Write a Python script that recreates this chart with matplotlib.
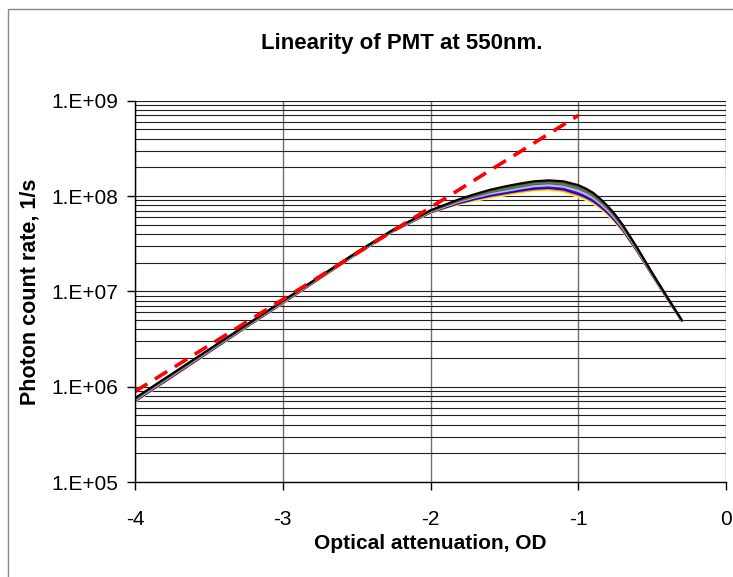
import numpy as np
import matplotlib
matplotlib.use('Agg')
import matplotlib.pyplot as plt
from matplotlib.patches import Rectangle
from matplotlib.ticker import FixedLocator, LogLocator, NullFormatter

plt.rcParams['font.family'] = ['Liberation Sans', 'DejaVu Sans']

# optical attenuation (OD)
od = [-4.0, -3.75, -3.5, -3.25, -3.0, -2.75, -2.5, -2.25, -2.0, -1.9, -1.8, -1.7, -1.6,
      -1.5, -1.4, -1.3, -1.2, -1.1, -1.0, -0.95, -0.9, -0.85, -0.8, -0.75, -0.7,
      -0.6, -0.5, -0.4, -0.3]

# log10 of photon count rate, one list per measurement (bottom -> top)
log_yellow = [5.840, 6.095, 6.355, 6.615, 6.870, 7.130, 7.390, 7.630, 7.820, 7.870, 7.915,
              7.950, 7.980, 8.005, 8.030, 8.050, 8.058, 8.040,
              7.990, 7.960, 7.920, 7.865, 7.800, 7.720, 7.630, 7.410, 7.165, 6.925, 6.690]
log_orange = [5.845, 6.100, 6.360, 6.619, 6.874, 7.133, 7.393, 7.633, 7.824, 7.875, 7.922,
              7.959, 7.991, 8.017, 8.043, 8.064, 8.072, 8.055,
              8.006, 7.976, 7.935, 7.879, 7.812, 7.731, 7.639, 7.416, 7.169, 6.928, 6.691]
log_blue = [5.850, 6.105, 6.364, 6.623, 6.878, 7.136, 7.395, 7.635, 7.828, 7.880, 7.929,
            7.968, 8.002, 8.028, 8.055, 8.077, 8.085, 8.069,
            8.021, 7.990, 7.949, 7.891, 7.824, 7.741, 7.648, 7.421, 7.173, 6.930, 6.693]
log_purple = [5.856, 6.111, 6.369, 6.627, 6.882, 7.140, 7.398, 7.638, 7.832, 7.886, 7.937,
              7.979, 8.015, 8.041, 8.069, 8.093, 8.101, 8.086,
              8.040, 8.008, 7.966, 7.907, 7.838, 7.754, 7.658, 7.428, 7.177, 6.933, 6.694]
log_lightblue = [5.860, 6.115, 6.373, 6.630, 6.885, 7.143, 7.400, 7.640, 7.835, 7.890, 7.943,
                 7.985, 8.023, 8.050, 8.078, 8.103, 8.112, 8.098,
                 8.053, 8.020, 7.978, 7.918, 7.848, 7.763, 7.665, 7.433, 7.180, 6.935, 6.695]
log_pink = [5.864, 6.119, 6.376, 6.633, 6.888, 7.145, 7.402, 7.642, 7.838, 7.894, 7.948,
            7.991, 8.031, 8.059, 8.088, 8.114, 8.123, 8.109,
            8.065, 8.032, 7.989, 7.928, 7.857, 7.771, 7.672, 7.437, 7.183, 6.937, 6.696]
log_teal = [5.868, 6.123, 6.380, 6.636, 6.891, 7.148, 7.404, 7.644, 7.841, 7.898, 7.954,
            7.997, 8.039, 8.068, 8.097, 8.124, 8.134, 8.120,
            8.078, 8.044, 8.001, 7.939, 7.867, 7.780, 7.679, 7.442, 7.186, 6.939, 6.697]
log_green = [5.872, 6.127, 6.383, 6.639, 6.894, 7.150, 7.406, 7.646, 7.844, 7.902, 7.959,
             8.003, 8.047, 8.077, 8.106, 8.134, 8.144, 8.131,
             8.090, 8.056, 8.012, 7.949, 7.876, 7.788, 7.686, 7.446, 7.189, 6.941, 6.698]
log_maroon = [5.876, 6.131, 6.387, 6.642, 6.897, 7.153, 7.408, 7.648, 7.847, 7.906, 7.964,
              8.011, 8.056, 8.090, 8.120, 8.146, 8.156, 8.143,
              8.103, 8.068, 8.024, 7.960, 7.886, 7.797, 7.693, 7.451, 7.192, 6.943, 6.699]
log_black = [5.880, 6.135, 6.390, 6.645, 6.900, 7.155, 7.410, 7.650, 7.850, 7.910, 7.970,
             8.020, 8.065, 8.100, 8.130, 8.155, 8.165, 8.155,
             8.115, 8.080, 8.035, 7.970, 7.895, 7.805, 7.700, 7.455, 7.195, 6.945, 6.700]

# ideal linear response
od_ideal = [-4.0, -1.0]
rate_ideal = [8.9e5, 7.0e8]

y_ticks = [1e5, 1e6, 1e7, 1e8, 1e9]
y_ticklabels = ['1.E+05', '1.E+06', '1.E+07', '1.E+08', '1.E+09']
x_ticks = [-4, -3, -2, -1, 0]

series = [log_yellow, log_orange, log_blue, log_purple, log_lightblue,
          log_pink, log_teal, log_green, log_maroon, log_black]
colors = ['#FFFF66', '#FF9900', '#0000FF', '#800080', '#99CCFF',
          '#FF99CC', '#008080', '#339966', '#993300', '#000000']

fig = plt.figure(figsize=(7.33, 5.77), dpi=100)
ax = fig.add_axes([135 / 733, 1 - 482 / 577, (726 - 135) / 733, (482 - 100.7) / 577])

for s, c in zip(series, colors):
    ax.plot(od, 10 ** np.array(s), color=c, lw=1.5, solid_joinstyle='round')

ax.plot(od_ideal, rate_ideal, color='#FF0000', lw=2.6, dashes=(4, 2.5))

ax.set_yscale('log')
ax.set_xlim(-4, 0)
ax.set_ylim(1e5, 1e9)
ax.yaxis.set_major_locator(FixedLocator(y_ticks))
ax.set_yticklabels(y_ticklabels)
ax.yaxis.set_minor_locator(LogLocator(base=10, subs=np.arange(2, 10)))
ax.yaxis.set_minor_formatter(NullFormatter())
ax.set_xticks(x_ticks)
ax.set_xticklabels([str(t) for t in x_ticks])

ax.grid(True, which='major', axis='y', color='#202020', lw=0.8)
ax.grid(True, which='minor', axis='y', color='#202020', lw=0.8)
ax.grid(True, which='major', axis='x', color='#707070', lw=1.0)
ax.set_axisbelow(True)

for side in ['top', 'right']:
    ax.spines[side].set_visible(False)
for side in ['left', 'bottom']:
    ax.spines[side].set_color('black')
    ax.spines[side].set_linewidth(1.0)

ax.tick_params(axis='both', which='major', direction='out', length=6, width=1, labelsize=15)
ax.tick_params(axis='x', pad=14)
ax.tick_params(axis='y', pad=6)
ax.tick_params(axis='y', which='minor', length=0)

ax.set_xlabel('Optical attenuation, OD', fontsize=15, fontweight='bold', labelpad=4)
ax.set_ylabel('Photon count rate, 1/s', fontsize=15.5, fontweight='bold', labelpad=8)
fig.text(402 / 733, 1 - 44 / 577, 'Linearity of PMT at 550nm.', ha='center', va='center',
         fontsize=16, fontweight='bold')

fig.patches.append(Rectangle((7.5 / 733, -0.1), 1.2, 1.1 - 8.5 / 577, transform=fig.transFigure,
                             fill=False, edgecolor='#888888', lw=1.0))

fig.savefig('out.png', dpi=100)
